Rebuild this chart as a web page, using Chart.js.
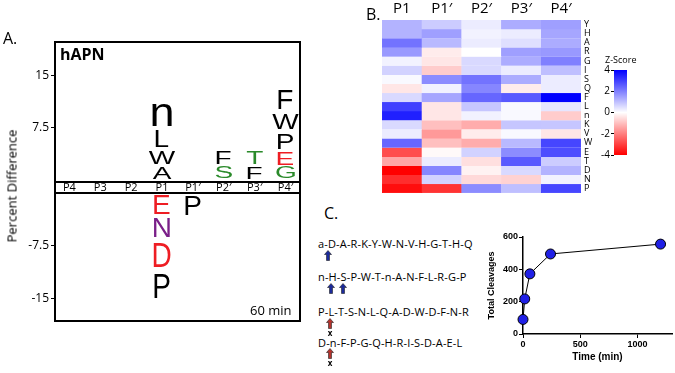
<!DOCTYPE html>
<html>
<head>
<meta charset="utf-8">
<script src="https://cdn.jsdelivr.net/npm/chart.js@4.4.1/dist/chart.umd.min.js"></script>
<style>
  html, body { margin: 0; padding: 0; background: #fff; }
  #fig { position: relative; width: 675px; height: 373px; overflow: hidden; font-family: "Open Sans", sans-serif; color: #000; }
  #fig canvas, #fig .t, #fig .arrow, #fig .box { position: absolute; }
  .t { white-space: nowrap; line-height: 1; }
  .box { box-sizing: border-box; pointer-events: none; }
  .seq { font-size: 11px; letter-spacing: 0.15px; }
  .arrow svg { display: block; }
</style>
</head>
<body>
<div id="fig">
  <canvas id="logoUp" width="310" height="180" style="left:0;top:0"></canvas>
  <canvas id="logoDown" width="310" height="143" style="left:0;top:180px"></canvas>
  <canvas id="heat" width="240" height="200" style="left:360px;top:0"></canvas>
  <canvas id="zbar" width="50" height="100" style="left:588px;top:62px"></canvas>
  <canvas id="cleave" width="195" height="148" style="left:480px;top:225px"></canvas>

  <div class="box" style="left:54px;top:41px;width:247px;height:281px;border:2px solid #000"></div>
  <div class="box" style="left:54px;top:181px;width:247px;height:13px;border-top:2px solid #000;border-bottom:2px solid #000"></div>

  <div class="t" style="left:3px;top:30px;font-size:16px">A.</div>
  <div class="t" style="left:366px;top:6px;font-size:16px">B.</div>
  <div class="t" style="left:324px;top:205px;font-size:16px">C.</div>
  <div class="t" style="left:60px;top:46px;font-size:16px;font-weight:bold">hAPN</div>
  <div class="t" style="left:250px;top:304px;font-size:13px">60 min</div>
  <div class="t" style="left:12px;top:186px;font-size:13px;transform:translate(-50%,-50%) rotate(-90deg)">Percent Difference</div>
  <div class="t" style="left:605px;top:55px;font-size:9px">Z-Score</div>

  <div class="t seq" style="left:318px;top:238px">a-D-A-R-K-Y-W-N-V-H-G-T-H-Q</div>
  <div class="t seq" style="left:318px;top:271px">n-H-S-P-W-T-n-A-N-F-L-R-G-P</div>
  <div class="t seq" style="left:318px;top:306px">P-L-T-S-N-L-Q-A-D-W-D-F-N-R</div>
  <div class="t seq" style="left:318px;top:337px">D-n-F-P-G-Q-H-R-I-S-D-A-E-L</div>
  <div id="arrows"></div>
</div>
<script>
(function () {
  "use strict";

  // ---------- A. logo de especificidade (diferença percentual) ----------
  var logoCols = ["P4", "P3", "P2", "P1", "P1\u2032", "P2\u2032", "P3\u2032", "P4\u2032"];
  var aboveLetters = [[], [], [], ["A", "W", "L", "n"], [], ["S", "F"], ["F", "T"], ["G", "E", "P", "W", "F"]];
  var aboveValues  = [[], [], [], [2.1, 2.3, 2.9, 4.0], [], [2.1, 2.3], [2.1, 2.3], [2.0, 2.2, 2.8, 2.8, 3.5]];
  var belowLetters = [[], [], [], ["E", "N", "D", "P"], ["P"], [], [], []];
  var belowValues  = [[], [], [], [-3.3, -3.3, -4.4, -4.3], [-3.4], [], [], []];

  // ---------- B. heatmap z-score ----------
  var heatCols = ["P1", "P1\u2032", "P2\u2032", "P3\u2032", "P4\u2032"];
  var heatRows = ["Y", "H", "A", "R", "G", "I", "S", "Q", "F", "L", "n", "K", "V", "W", "E", "T", "D", "N", "P"];
  var zP1  = [1.2, 1.2, 2.2, 1.6, 0.2, 0.7, 0.1, -0.4, 0.6, 3.0, 3.5, 0.6, 0.3, 2.4, -2.8, -1.4, -4.0, -3.3, -3.8];
  var zP1p = [0.8, 1.5, 1.1, -0.3, -0.4, -0.8, 1.8, 0.2, 1.4, -0.4, -0.4, -1.0, -1.6, -1.0, -0.1, 0.3, 1.9, 0.7, -3.2];
  var zP2p = [0.3, 0.2, 0.3, 0.0, 0.6, 0.6, 2.2, 1.9, 2.4, 0.9, 0.2, -1.3, -0.3, -1.3, 0.7, -0.5, -0.2, -0.6, 1.8];
  var zP3p = [1.3, 0.3, 0.5, 1.5, 1.3, 0.3, 1.3, -0.3, 2.6, 0.1, 0.1, 0.9, 0.1, 1.1, 1.8, 2.6, 0.6, -0.7, 1.0];
  var zP4p = [1.5, 1.4, 1.3, 1.6, 2.0, 1.0, 0.3, 0.3, 4.0, 0.4, -0.8, 0.9, -0.4, 2.9, 2.8, 0.8, 1.2, 0.2, 2.9];
  var zTicks = [-4, -2, 0, 2, 4];

  // ---------- C. clivagens totais x tempo ----------
  var timesMin = [0, 15, 60, 240, 1200];
  var totalCleavages = [90, 217, 372, 495, 556];
  var timeTicks = [0, 500, 1000];
  var countTicks = [0, 200, 400, 600];

  var CORES = { S: "#2a8a2a", T: "#2a8a2a", G: "#2a8a2a", E: "#ee1d23", D: "#ee1d23", N: "#7a1f88" };

  Chart.defaults.font.family = "'Open Sans', sans-serif";
  Chart.defaults.color = "#000";
  Chart.defaults.animation = false;
  Chart.defaults.plugins.legend.display = false;
  Chart.defaults.plugins.tooltip.enabled = false;

  // tamanho fixo do eixo e sem padding automático dos rótulos das pontas
  function fixar(largura, altura) {
    return function (s) {
      if (largura != null) s.width = largura;
      if (altura != null) s.height = altura;
      s.paddingTop = 0; s.paddingBottom = 0; s.paddingLeft = 0; s.paddingRight = 0;
    };
  }

  function letra(ctx, ch, cx, top, bot, cor) {
    ctx.save();
    ctx.font = "100px 'Liberation Sans', Arial, sans-serif";
    var m = ctx.measureText(ch);
    var inkW = m.actualBoundingBoxLeft + m.actualBoundingBoxRight;
    var inkH = m.actualBoundingBoxAscent + m.actualBoundingBoxDescent;
    var slot = bot - top;
    var h = slot * 0.8;
    var w = inkW * (ch === ch.toLowerCase() ? 0.45 : 0.28);
    ctx.translate(cx - w / 2, top + (slot - h) / 2);
    ctx.scale(w / inkW, h / inkH);
    ctx.fillStyle = cor;
    ctx.textAlign = "left";
    ctx.textBaseline = "alphabetic";
    ctx.fillText(ch, m.actualBoundingBoxLeft, m.actualBoundingBoxAscent);
    ctx.restore();
  }

  var pluginLetras = {
    id: "letras",
    afterDatasetsDraw: function (chart) {
      chart.data.datasets.forEach(function (ds, di) {
        chart.getDatasetMeta(di).data.forEach(function (bar, i) {
          var ch = ds.letters[i];
          if (!ch) return;
          letra(chart.ctx, ch, bar.x, Math.min(bar.y, bar.base), Math.max(bar.y, bar.base), CORES[ch] || "#000");
        });
      });
    }
  };

  var pluginFaixa = {
    id: "faixa",
    afterDraw: function (chart) {
      var ctx = chart.ctx, x = chart.scales.x;
      ctx.save();
      ctx.font = "11px 'Open Sans', sans-serif";
      ctx.fillStyle = "#000";
      ctx.textAlign = "center";
      ctx.textBaseline = "middle";
      logoCols.forEach(function (c, i) { ctx.fillText(c, x.getPixelForValue(i), 7.5); });
      ctx.restore();
    }
  };

  function pilhas(letras, valores) {
    var n = 0;
    letras.forEach(function (l) { n = Math.max(n, l.length); });
    var out = [];
    for (var r = 0; r < n; r++) {
      out.push({
        data: valores.map(function (v) { return v[r] || 0; }),
        letters: letras.map(function (l) { return l[r] || ""; }),
        backgroundColor: "rgba(0,0,0,0)",
        borderWidth: 0,
        barPercentage: 0.9,
        categoryPercentage: 1
      });
    }
    return out;
  }

  function eixoLogo(min, max, marcas) {
    return {
      stacked: true, min: min, max: max,
      afterFit: fixar(54, null),
      afterBuildTicks: function (s) { s.ticks = marcas.map(function (v) { return { value: v }; }); },
      ticks: { font: { size: 12 }, padding: 2, color: "#000" },
      grid: { drawOnChartArea: false, tickLength: 3, color: "#000", lineWidth: 1 },
      border: { display: false }
    };
  }

  new Chart(document.getElementById("logoUp"), {
    type: "bar",
    data: { labels: logoCols, datasets: pilhas(aboveLetters, aboveValues) },
    options: {
      responsive: false, devicePixelRatio: 1,
      layout: { autoPadding: false, padding: { top: 41, right: 9, bottom: 0, left: 0 } },
      scales: { x: { display: false, stacked: true, afterFit: fixar(null, 0) }, y: eixoLogo(0, 20, [7.5, 15]) }
    },
    plugins: [pluginLetras]
  });

  new Chart(document.getElementById("logoDown"), {
    type: "bar",
    data: { labels: logoCols, datasets: pilhas(belowLetters, belowValues) },
    options: {
      responsive: false, devicePixelRatio: 1,
      layout: { autoPadding: false, padding: { top: 13, right: 9, bottom: 2, left: 0 } },
      scales: { x: { display: false, stacked: true, afterFit: fixar(null, 0) }, y: eixoLogo(-18.2, 0, [-7.5, -15]) }
    },
    plugins: [pluginLetras, pluginFaixa]
  });

  // ---------- heatmap ----------
  function corZ(z) {
    var t = Math.max(-1, Math.min(1, z / 4));
    var c;
    if (t >= 0) { c = Math.round(255 * (1 - t)); return "rgb(" + c + "," + c + ",255)"; }
    c = Math.round(255 * (1 + t));
    return "rgb(255," + c + "," + c + ")";
  }
  var colunasZ = [zP1, zP1p, zP2p, zP3p, zP4p];
  var dsHeat = heatRows.map(function (row, r) {
    var cores = colunasZ.map(function (col) { return corZ(col[r]); });
    return {
      label: row,
      data: heatCols.map(function () { return 1; }),
      backgroundColor: cores, borderColor: cores, borderWidth: 0.5,
      barPercentage: 1, categoryPercentage: 1
    };
  });

  new Chart(document.getElementById("heat"), {
    type: "bar",
    data: { labels: heatCols, datasets: dsHeat },
    options: {
      responsive: false, devicePixelRatio: 1,
      layout: { autoPadding: false, padding: { top: 0, right: 0, bottom: 7, left: 22 } },
      scales: {
        x: {
          position: "top", stacked: true,
          afterFit: fixar(null, 20),
          ticks: { font: { size: 15 }, padding: 2, color: "#000" },
          grid: { display: false, drawTicks: false }, border: { display: false }
        },
        y: {
          position: "right", stacked: true, reverse: true, min: 0, max: heatRows.length,
          afterFit: fixar(19, null),
          afterBuildTicks: function (s) { s.ticks = heatRows.map(function (_, i) { return { value: i + 0.5 }; }); },
          ticks: { font: { size: 9 }, padding: 3, autoSkip: false, color: "#000",
            callback: function (v, i) { return heatRows[i]; } },
          grid: { display: false, drawTicks: false }, border: { display: false }
        }
      }
    }
  });

  // ---------- barra de cores ----------
  new Chart(document.getElementById("zbar"), {
    type: "bar",
    data: {
      labels: ["z"],
      datasets: [{
        data: [[zTicks[0], zTicks[zTicks.length - 1]]],
        barPercentage: 1, categoryPercentage: 1, borderWidth: 0,
        backgroundColor: function (c) {
          var a = c.chart.chartArea;
          if (!a) return "#fff";
          var g = c.chart.ctx.createLinearGradient(0, a.bottom, 0, a.top);
          g.addColorStop(0, corZ(-4));
          g.addColorStop(0.5, corZ(0));
          g.addColorStop(1, corZ(4));
          return g;
        }
      }]
    },
    options: {
      responsive: false, devicePixelRatio: 1,
      layout: { autoPadding: false, padding: { top: 8, right: 11, bottom: 7, left: 0 } },
      scales: {
        x: { display: false, afterFit: fixar(null, 0) },
        y: {
          min: -4, max: 4,
          afterFit: fixar(26, null),
          afterBuildTicks: function (s) { s.ticks = zTicks.map(function (v) { return { value: v }; }); },
          ticks: { font: { size: 10 }, padding: 1, color: "#000" },
          grid: { drawOnChartArea: false, tickLength: 3, color: "#000" },
          border: { display: false }
        }
      }
    }
  });

  // ---------- C. curva de clivagens ----------
  var fonteC = { family: "'Liberation Sans', Arial, sans-serif", size: 9, weight: "bold" };
  new Chart(document.getElementById("cleave"), {
    type: "scatter",
    data: {
      datasets: [{
        data: timesMin.map(function (t, i) { return { x: t, y: totalCleavages[i] }; }),
        showLine: true, borderColor: "#000", borderWidth: 1,
        pointRadius: 5, pointBackgroundColor: "#2020e6", pointBorderColor: "#000", pointBorderWidth: 1,
        clip: false
      }]
    },
    options: {
      responsive: false, devicePixelRatio: 1,
      layout: { autoPadding: false, padding: { top: 12, right: 3, bottom: 0, left: 0 } },
      scales: {
        x: {
          min: 0, max: 1300,
          afterFit: fixar(null, 39),
          afterBuildTicks: function (s) { s.ticks = timeTicks.map(function (v) { return { value: v }; }); },
          ticks: { font: fonteC, padding: 1, color: "#000", maxRotation: 0, callback: function (v) { return String(v); } },
          grid: { drawOnChartArea: false, tickLength: 4, color: "#000" },
          border: { color: "#000", width: 1.5 },
          title: { display: true, text: "Time (min)", color: "#000",
            font: { family: fonteC.family, size: 10, weight: "bold" }, padding: { top: 0, bottom: 10 } }
        },
        y: {
          min: 0, max: 600,
          afterFit: fixar(43, null),
          afterBuildTicks: function (s) { s.ticks = countTicks.map(function (v) { return { value: v }; }); },
          ticks: { font: fonteC, padding: 1, color: "#000", callback: function (v) { return String(v); } },
          grid: { drawOnChartArea: false, tickLength: 4, color: "#000" },
          border: { color: "#000", width: 1.5 },
          title: { display: true, text: "Total Cleavages", color: "#000", font: fonteC, padding: { top: 6, bottom: 0 } }
        }
      }
    }
  });

  // ---------- setas dos sítios de clivagem ----------
  var setas = [
    { x: 328, y: 250, cor: "#1b2a9c", bloqueio: false },
    { x: 331, y: 283, cor: "#1b2a9c", bloqueio: false },
    { x: 343, y: 283, cor: "#1b2a9c", bloqueio: false },
    { x: 330, y: 318, cor: "#b5322c", bloqueio: true },
    { x: 330, y: 348, cor: "#b5322c", bloqueio: true }
  ];
  var alvo = document.getElementById("arrows");
  setas.forEach(function (s) {
    var d = document.createElement("div");
    d.className = "arrow";
    d.style.left = (s.x - 4) + "px";
    d.style.top = s.y + "px";
    d.innerHTML = '<svg width="8" height="20" viewBox="0 0 8 20">' +
      '<path d="M4 0.5 L7.5 4.5 L5.5 4.5 L5.5 10.5 L2.5 10.5 L2.5 4.5 L0.5 4.5 Z" fill="' + s.cor +
      '" stroke="#222" stroke-width="0.6"/>' +
      (s.bloqueio ? '<text x="4" y="18" text-anchor="middle" font-family="Open Sans, sans-serif" font-size="8" font-weight="bold" fill="#000">x</text>' : "") +
      '</svg>';
    alvo.appendChild(d);
  });
})();
</script>
</body>
</html>
